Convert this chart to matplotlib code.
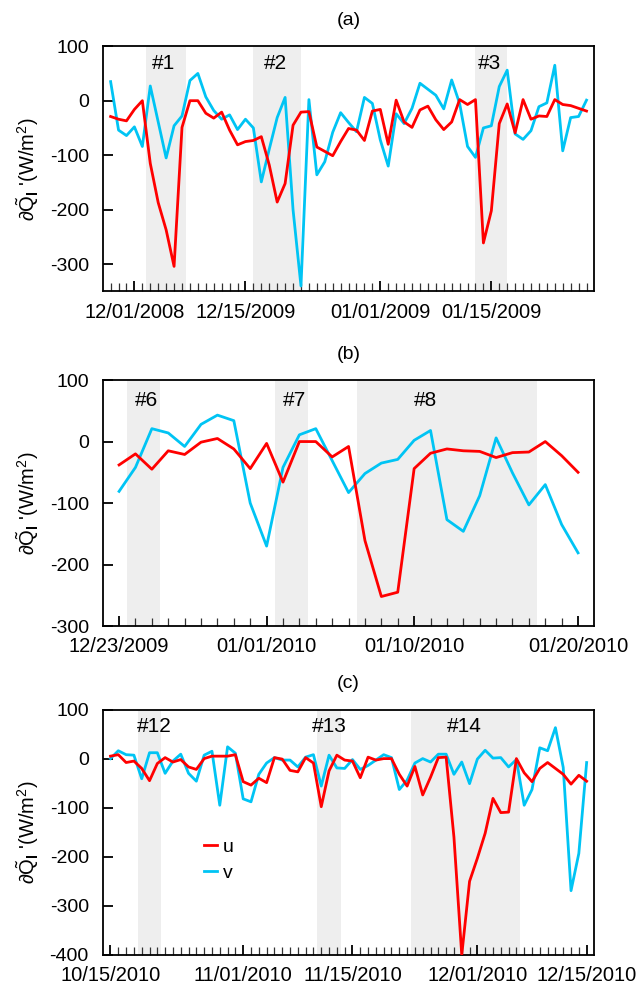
import numpy as np
import matplotlib
matplotlib.use("Agg")
import matplotlib.pyplot as plt

plt.rcParams["font.family"] = ["Liberation Sans", "DejaVu Sans"]
plt.rcParams["font.size"] = 14
plt.rcParams["axes.unicode_minus"] = False
plt.rcParams["mathtext.fontset"] = "custom"
plt.rcParams["mathtext.rm"] = "Liberation Sans"
plt.rcParams["mathtext.it"] = "Liberation Sans:italic"
plt.rcParams["mathtext.bf"] = "Liberation Sans:bold"

RED = "#ff0000"
CYAN = "#00c4f4"
SHADE = "#eeeeee"

# (a) daily values 11/28/2008 - 01/27/2009
u_a = [-29, -34, -37, -16, 0, -115, -187, -237, -304, -49,
       0, 0, -23, -32, -21, -54, -81, -75, -73, -66,
       -118, -186, -152, -45, -21, -20, -85, -93, -101, -75,
       -51, -54, -73, -19, -16, -80, 1, -39, -49, -17,
       -10, -35, -53, -39, 2, -7, 2, -261, -202, -42,
       -6, -59, 2, -34, -28, -29, 2, -7, -9, -14, -19]
v_a = [35, -54, -64, -48, -84, 27, -39, -105, -46, -28,
       37, 50, 7, -18, -34, -26, -53, -34, -50, -149,
       -89, -31, 6, -200, -340, 2, -136, -112, -58, -22,
       -40, -57, 6, -5, -72, -120, -24, -42, -14, 32,
       21, 10, -15, 38, -5, -84, -104, -50, -46, 26,
       56, -61, -71, -55, -11, -4, 65, -92, -31, -29, 1]
ticks_a = [3, 17, 34, 48]
labels_a = ["12/01/2008", "12/15/2009", "01/01/2009", "01/15/2009"]
spans_a = [(4.5, 9.5), (18, 24), (46, 50)]
events_a = ["#1", "#2", "#3"]
event_x_a = [6.65, 20.8, 47.75]

# (b) daily values 12/23/2009 - 01/20/2010
u_b = [-38, -20, -45, -15, -21, -1, 5, -12, -44, -3,
       -66, 0, 0, -25, -8, -161, -252, -245, -44, -19,
       -12, -15, -16, -26, -18, -17, 0, -23, -50]
v_b = [-81, -42, 21, 14, -8, 28, 43, 34, -100, -170,
       -42, 11, 21, -31, -83, -52, -35, -29, 2, 18,
       -127, -146, -88, 6, -51, -103, -70, -135, -181]
ticks_b = [0, 9, 18, 28]
labels_b = ["12/23/2009", "01/01/2010", "01/10/2010", "01/20/2010"]
spans_b = [(0.5, 2.5), (9.5, 11.5), (14.5, 25.5)]
events_b = ["#6", "#7", "#8"]
event_x_b = [1.65, 10.7, 18.7]

# (c) daily values 10/15/2010 - 12/15/2010
u_c = [5, 8, -8, -5, -20, -45, -10, 2, -7, -2,
       -17, -22, 0, 5, 5, 5, 8, -47, -54, -40,
       -49, 2, -1, -24, -27, 2, -9, -98, -25, 7,
       -3, -5, -39, 3, -3, 0, 0, -32, -56, -16,
       -74, -38, 2, 3, -160, -400, -250, -203, -152, -81,
       -110, -109, 0, -29, -47, -20, -8, -20, -32, -52,
       -34, -46]
v_c = [0, 16, 8, 7, -41, 12, 12, -30, -5, 9,
       -30, -46, 7, 15, -95, 24, 11, -82, -88, -32,
       -9, 2, -3, -3, -17, 3, 8, -56, 7, -19,
       -20, -2, -22, -14, -3, 8, 2, -63, -44, -9,
       0, -7, 9, 9, -32, -7, -51, -1, 17, 1,
       2, -17, -2, -95, -63, 22, 16, 63, -18, -269,
       -193, -8]
ticks_c = [0, 17, 31, 47, 61]
labels_c = ["10/15/2010", "11/01/2010", "11/15/2010", "12/01/2010", "12/15/2010"]
spans_c = [(3.5, 6.5), (26.5, 29.5), (38.5, 52.5)]
events_c = ["#12", "#13", "#14"]
event_x_c = [5.55, 28.0, 45.3]

YLABEL = r"$\partial\tilde{\mathrm{Q}}_{\mathbf{l}}$ '(W/m$^2$)"


def draw_panel(ax, u, v, ticks, labels, spans, events, event_x, ylim, yticks, event_y, title):
    x = np.arange(len(u))
    for left, right in spans:
        ax.axvspan(left, right, color=SHADE, lw=0, zorder=0)
    ax.plot(x, u, color=RED, lw=2.0, label="u", zorder=3)
    ax.plot(x, v, color=CYAN, lw=2.0, label="v", zorder=2)
    for name, ex in zip(events, event_x):
        ax.text(ex, event_y, name, ha="center", va="center", fontsize=15)

    ax.set_xlim(-1, len(u))
    ax.set_ylim(*ylim)
    ax.set_yticks(yticks)
    ax.set_xticks(ticks)
    ax.set_xticklabels(labels)
    ax.set_xticks(x, minor=True)
    ax.tick_params(axis="x", which="major", direction="in", length=7.5, width=1.3, pad=8, labelsize=14.5)
    ax.tick_params(axis="x", which="minor", direction="in", length=5.5, width=0.9, color="#333333")
    ax.tick_params(axis="y", which="major", direction="in", length=7, width=1.3, pad=10, labelsize=14)
    for spine in ax.spines.values():
        spine.set_linewidth(1.3)

    ax.text(0.5, 1.106, title, transform=ax.transAxes, ha="center", va="center", fontsize=14)
    ax.text(-0.152, 0.5, YLABEL, transform=ax.transAxes, rotation=90,
            ha="center", va="center", fontsize=14.5)


fig = plt.figure(figsize=(6.37, 9.89), dpi=100)
ax_a = fig.add_axes([0.1612, 0.7053, 0.772, 0.248])
ax_b = fig.add_axes([0.1612, 0.3670, 0.772, 0.2487])
ax_c = fig.add_axes([0.1612, 0.0344, 0.772, 0.2482])

draw_panel(ax_a, u_a, v_a, ticks_a, labels_a, spans_a, events_a, event_x_a,
           (-350, 100), [100, 0, -100, -200, -300], 68, "(a)")
draw_panel(ax_b, u_b, v_b, ticks_b, labels_b, spans_b, events_b, event_x_b,
           (-300, 100), [100, 0, -100, -200, -300], 67.5, "(b)")
draw_panel(ax_c, u_c, v_c, ticks_c, labels_c, spans_c, events_c, event_x_c,
           (-400, 100), [100, 0, -100, -200, -300, -400], 65.5, "(c)")

ax_c.legend(loc="center left", bbox_to_anchor=(0.206, 0.386), frameon=False,
            handlelength=0.65, handletextpad=0.3, labelspacing=0.45,
            borderpad=0, borderaxespad=0, fontsize=14)

fig.savefig("out.png", dpi=100)
